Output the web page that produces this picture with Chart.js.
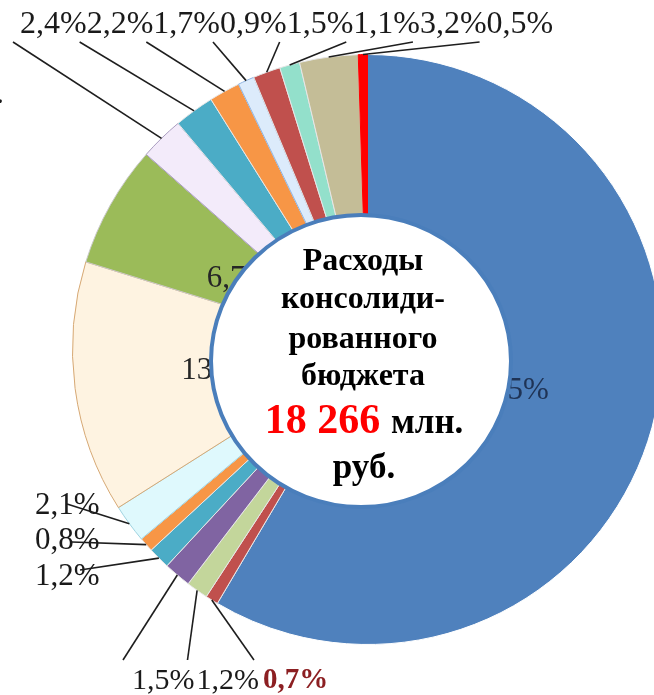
<!DOCTYPE html>
<html>
<head>
<meta charset="utf-8">
<script src="https://cdn.jsdelivr.net/npm/chart.js@4.4.1/dist/chart.umd.min.js"></script>
<style>
  html, body { margin: 0; padding: 0; background: #fff; overflow: hidden; }
  #wrap { position: absolute; left: 0; top: 0; width: 736px; height: 700px; }
</style>
</head>
<body>
<div id="wrap"><canvas id="budgetChart" width="736" height="700"></canvas></div>
<script>
// shares of the consolidated budget, clockwise from 12 o'clock
const categories = ['Статья 1', 'Статья 2', 'Статья 3', 'Статья 4', 'Статья 5', 'Статья 6',
    'Статья 7', 'Статья 8', 'Статья 9', 'Статья 10', 'Статья 11', 'Статья 12',
    'Статья 13', 'Статья 14', 'Статья 15', 'Статья 16', 'Статья 17'];
const shares = [58.5, 0.7, 1.2, 1.5, 1.2, 0.8, 2.1, 13.8, 6.7, 2.4, 2.2, 1.7, 0.9, 1.5, 1.1, 3.2, 0.5];
const colors = ['#4f81bd', '#c0504d', '#c3d69b', '#8064a2', '#4bacc6', '#f79646', '#dff9fd',
    '#fef3e1', '#9bbb59', '#f3ebfa', '#4bacc6', '#f79646', '#dcebfb', '#c0504d', '#93e0cb',
    '#c4bd97', '#ff0000'];
const borders = ['#ffffff', '#e6e6e6', '#e6e6e6', '#e6e6e6', '#e6e6e6', '#e6e6e6', '#9fd3e0',
    '#d6a874', '#c9c9c9', '#a99cbf', '#e6e6e6', '#e6e6e6', '#8db3e2', '#e6e6e6', '#e6e6e6',
    '#e6e6e6', '#ff0000'];

// where each percentage is written
const insideSlices = [0, 7, 8];
const topSlices = [9, 10, 11, 12, 13, 14, 15, 16];
const bottomSlices = [3, 2, 1];
const leftSlices = [6, 5, 4];

const centerLines = ['Расходы', 'консолиди-', 'рованного', 'бюджета'];
const totalValue = '18 266';
const totalUnit = ' млн.';
const lastLine = 'руб.';

const fmt = i => shares[i].toFixed(1).replace('.', ',') + '%';

const labelPlugin = {
    id: 'budgetLabels',
    afterDraw(chart) {
        const ctx = chart.ctx;
        const arcs = chart.getDatasetMeta(0).data;

        // point on the outer edge, middle of slice
        const edge = i => {
            const p = arcs[i].getProps(['x', 'y', 'startAngle', 'endAngle', 'outerRadius'], true);
            const m = (p.startAngle + p.endAngle) / 2;
            return [p.x + Math.cos(m) * p.outerRadius, p.y + Math.sin(m) * p.outerRadius];
        };
        const leader = (x1, y1, i) => {
            const [x2, y2] = edge(i);
            ctx.beginPath();
            ctx.moveTo(x1, y1);
            ctx.lineTo(x2, y2);
            ctx.stroke();
        };

        ctx.save();

        // labels inside the big slices
        ctx.font = '31px "Liberation Serif"';
        ctx.textAlign = 'center';
        ctx.textBaseline = 'middle';
        insideSlices.forEach(i => {
            const c = arcs[i].getCenterPoint();
            ctx.fillStyle = i === 0 ? '#1f3355' : '#262626';
            ctx.fillText(fmt(i), c.x - (i === 0 ? 1 : 0), c.y + 2);
        });

        // white circle in the middle
        const cx = 361, cy = 361;
        ctx.beginPath();
        ctx.ellipse(cx, cy, 150, 146, 0, 0, Math.PI * 2);
        ctx.fillStyle = '#ffffff';
        ctx.fill();
        ctx.lineWidth = 4;
        ctx.strokeStyle = '#4a7ebb';
        ctx.stroke();

        ctx.textBaseline = 'alphabetic';
        ctx.fillStyle = '#000000';
        ctx.font = 'bold 32px "Liberation Serif"';
        const baselines = [-91, -53, -13, 24];
        centerLines.forEach((t, k) => ctx.fillText(t, cx + 2, cy + baselines[k]));

        ctx.font = 'bold 42px "Liberation Serif"';
        const w1 = ctx.measureText(totalValue).width;
        ctx.font = 'bold 35px "Liberation Serif"';
        const w2 = ctx.measureText(totalUnit).width;
        let sx = cx + 2 - (w1 + w2) / 2;
        ctx.textAlign = 'left';
        ctx.font = 'bold 42px "Liberation Serif"';
        ctx.fillStyle = '#ff0000';
        ctx.fillText(totalValue, sx, cy + 72);
        ctx.font = 'bold 35px "Liberation Serif"';
        ctx.fillStyle = '#000000';
        ctx.fillText(totalUnit, sx + w1 + 2, cy + 72);
        ctx.textAlign = 'center';
        ctx.fillText(lastLine, cx + 3, cy + 117);

        // outside labels with leader lines
        ctx.strokeStyle = '#1e1e1e';
        ctx.lineWidth = 1.6;
        ctx.textAlign = 'left';
        ctx.textBaseline = 'middle';
        ctx.fillStyle = '#1a1a1a';

        ctx.font = '32px "Liberation Serif"';
        let x = 20;
        topSlices.forEach(i => {
            const t = fmt(i);
            leader(x - 7, 42, i);
            ctx.fillText(t, x, 25);
            x += ctx.measureText(t).width;
        });

        x = 132;
        bottomSlices.forEach((i, k) => {
            const t = fmt(i);
            const last = k === bottomSlices.length - 1;
            ctx.font = last ? 'bold 29px "Liberation Serif"' : '30px "Liberation Serif"';
            ctx.fillStyle = last ? '#8c1f22' : '#1a1a1a';
            leader(x - 9, 660, i);
            ctx.fillText(t, x, 681);
            x += ctx.measureText(t).width + (k === 0 ? 2 : 4);
        });

        ctx.font = '31px "Liberation Serif"';
        ctx.fillStyle = '#1a1a1a';
        const leftY = [506, 541, 577];
        const lineFrom = [[67, 504], [72, 542], [80, 570]];
        leftSlices.forEach((i, k) => {
            ctx.fillText(fmt(i), 35, leftY[k]);
            leader(lineFrom[k][0], lineFrom[k][1], i);
        });

        // stray dot at the left edge
        ctx.font = '32px "Liberation Serif"';
        ctx.textBaseline = 'alphabetic';
        ctx.fillText('.', -4, 103);

        ctx.restore();
    }
};

const ctx = document.getElementById('budgetChart').getContext('2d');
const budgetChart = new Chart(ctx, {
    type: 'pie',
    data: {
        labels: categories,
        datasets: [{
            data: shares,
            backgroundColor: colors,
            borderColor: borders,
            borderWidth: 1,
            hoverOffset: 0
        }]
    },
    options: {
        responsive: false,
        animation: false,
        layout: { padding: { left: 72, right: 73, top: 54, bottom: 55 } },
        plugins: {
            legend: { display: false },
            tooltip: { enabled: false }
        }
    },
    plugins: [labelPlugin]
});
</script>
</body>
</html>
